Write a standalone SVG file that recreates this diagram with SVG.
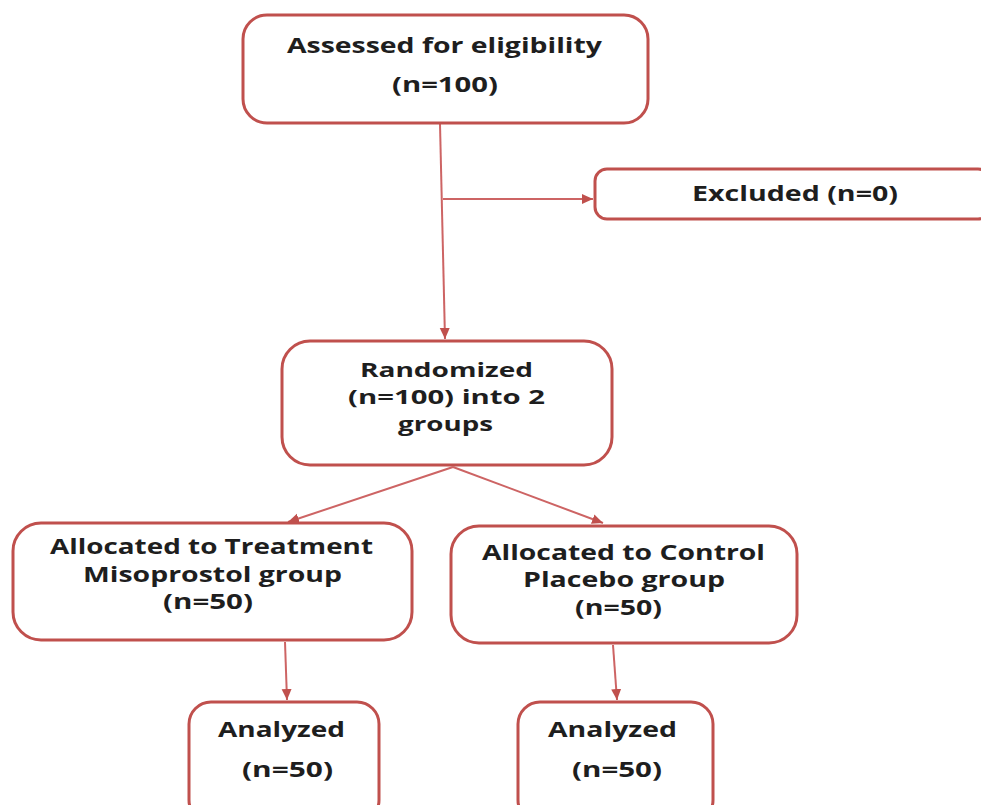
<svg xmlns="http://www.w3.org/2000/svg" width="981" height="805" viewBox="0 0 981 805">
  <style>
    .box { fill: #ffffff; stroke: #C0504D; stroke-width: 3; }
    .lbl { font-family: "Open Sans", "Liberation Sans", sans-serif; font-weight: bold; font-size: 21px; fill: #1e1e1e; text-anchor: middle; }
    .sm { font-size: 19px; }
    .conn { fill: none; stroke: #CD6464; stroke-width: 2; }
  </style>
  <defs>
    <marker id="arr" markerUnits="userSpaceOnUse" markerWidth="12" markerHeight="12" viewBox="0 0 12 12" refX="11" refY="6" orient="auto">
      <path d="M0,1 L11,6 L0,11 Z" fill="#C0504D"/>
    </marker>
  </defs>
  <rect width="981" height="805" fill="#ffffff"/>

  <g id="connectors">
    <path class="conn" d="M440,124 L445,339" marker-end="url(#arr)"/>
    <path class="conn" d="M443,199 L593,199" marker-end="url(#arr)"/>
    <path class="conn" d="M453,467 L288,522" marker-end="url(#arr)"/>
    <path class="conn" d="M453,467 L603,523" marker-end="url(#arr)"/>
    <path class="conn" d="M285,642 L287,700" marker-end="url(#arr)"/>
    <path class="conn" d="M613,645 L617,700" marker-end="url(#arr)"/>
  </g>

  <g id="assessed">
    <rect class="box" x="243" y="15" width="405" height="108" rx="24"/>
    <text class="lbl" x="444.5" y="53" textLength="315" lengthAdjust="spacingAndGlyphs">Assessed for eligibility</text>
    <text class="lbl" x="445" y="92" textLength="106" lengthAdjust="spacingAndGlyphs">(n=100)</text>
  </g>

  <g id="excluded">
    <rect class="box" x="595" y="169" width="395" height="50" rx="12"/>
    <text class="lbl" x="795" y="201" textLength="206" lengthAdjust="spacingAndGlyphs">Excluded (n=0)</text>
  </g>

  <g id="randomized">
    <rect class="box" x="282" y="341" width="330" height="124" rx="28"/>
    <text class="lbl sm" x="446.5" y="377" textLength="173" lengthAdjust="spacingAndGlyphs">Randomized</text>
    <text class="lbl sm" x="446.5" y="404" textLength="197" lengthAdjust="spacingAndGlyphs">(n=100) into 2</text>
    <text class="lbl sm" x="445.5" y="431" textLength="95" lengthAdjust="spacingAndGlyphs">groups</text>
  </g>

  <g id="treatment">
    <rect class="box" x="13" y="523" width="399" height="117" rx="28"/>
    <text class="lbl" x="211.5" y="554" textLength="323" lengthAdjust="spacingAndGlyphs">Allocated to Treatment</text>
    <text class="lbl" x="212.5" y="582" textLength="259" lengthAdjust="spacingAndGlyphs">Misoprostol group</text>
    <text class="lbl" x="208" y="609" textLength="90" lengthAdjust="spacingAndGlyphs">(n=50)</text>
  </g>

  <g id="control">
    <rect class="box" x="451" y="526" width="346" height="117" rx="28"/>
    <text class="lbl" x="623.5" y="560" textLength="283" lengthAdjust="spacingAndGlyphs">Allocated to Control</text>
    <text class="lbl" x="624" y="587" textLength="202" lengthAdjust="spacingAndGlyphs">Placebo group</text>
    <text class="lbl" x="618.5" y="615" textLength="87" lengthAdjust="spacingAndGlyphs">(n=50)</text>
  </g>

  <g id="analyzed-left">
    <rect class="box" x="189" y="702" width="190" height="120" rx="22"/>
    <text class="lbl" x="281.5" y="737" textLength="127" lengthAdjust="spacingAndGlyphs">Analyzed</text>
    <text class="lbl" x="287.5" y="777" textLength="91" lengthAdjust="spacingAndGlyphs">(n=50)</text>
  </g>

  <g id="analyzed-right">
    <rect class="box" x="518" y="702" width="195" height="120" rx="22"/>
    <text class="lbl" x="612.5" y="737" textLength="129" lengthAdjust="spacingAndGlyphs">Analyzed</text>
    <text class="lbl" x="617" y="777" textLength="90" lengthAdjust="spacingAndGlyphs">(n=50)</text>
  </g>
</svg>
